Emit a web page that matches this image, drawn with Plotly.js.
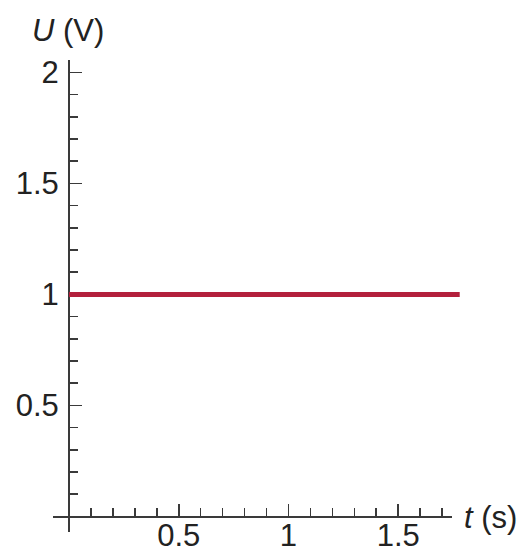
<!DOCTYPE html>
<html>
<head>
<meta charset="utf-8">
<script src="https://cdn.plot.ly/plotly-3.0.1.min.js"></script>
<style>
  html, body { margin: 0; padding: 0; background: #fff; }
  #chart { width: 523px; height: 553px; }
</style>
</head>
<body>
<div id="chart"></div>
<script>
// Constant voltage U = 1 V over time t
var timeS = [0, 1.78];
var voltageV = [1, 1];

var yTickVals = [0.5, 1, 1.5, 2];
var yTickText = ['0.5', '1', '1.5', '2'];
var xTickVals = [0.5, 1, 1.5];
var xTickText = ['0.5', '1', '1.5'];

var W = 523, H = 553;
// pixel layout of the axes
var px0 = 69, pxPerUnit = 219.5;   // horizontal
var py0 = 516.5, pyPerUnit = 222;  // vertical

var xRange = [-0.075, 1.745];
var yRange = [-0.07, 2.056];

function xPix(v) { return px0 + v * pxPerUnit; }
function yPix(v) { return py0 - v * pyPerUnit; }

var xDomain = [xPix(xRange[0]) / W, xPix(xRange[1]) / W];
var yDomain = [1 - yPix(yRange[0]) / H, 1 - yPix(yRange[1]) / H];

// wider hidden axis so the line may run a little past the drawn axis end
var x2Range = [-0.075, 1.8];
var x2Domain = [xPix(x2Range[0]) / W, xPix(x2Range[1]) / W];

var fontFam = 'Liberation Sans, Arial, sans-serif';
var axisColor = '#3a3a3a';
var textColor = '#222222';

// empty trace that keeps the main x/y subplot (and its axes) alive
var axesHolder = {
  x: [], y: [],
  xaxis: 'x', yaxis: 'y',
  mode: 'lines',
  hoverinfo: 'skip'
};

var trace = {
  x: timeS,
  y: voltageV,
  xaxis: 'x2',
  yaxis: 'y',
  mode: 'lines',
  line: { color: '#b3203c', width: 5 },
  hoverinfo: 'skip'
};

var tickFont = { family: fontFam, size: 31, color: textColor };

var layout = {
  width: W,
  height: H,
  margin: { l: 0, r: 0, t: 0, b: 0 },
  paper_bgcolor: '#fff',
  plot_bgcolor: 'rgba(0,0,0,0)',
  showlegend: false,
  font: { family: fontFam, size: 31, color: textColor },
  xaxis: {
    domain: xDomain,
    range: xRange,
    anchor: 'free',
    position: 1 - py0 / H,
    showgrid: false,
    zeroline: false,
    showline: true,
    linecolor: axisColor,
    linewidth: 2,
    ticks: 'inside',
    ticklen: 12,
    tickwidth: 1.6,
    tickcolor: axisColor,
    tickmode: 'array',
    tickvals: xTickVals,
    ticktext: xTickText,
    ticklabelstandoff: -9,
    tickfont: tickFont,
    minor: { tickmode: 'linear', tick0: 0, dtick: 0.1, ticks: 'inside', ticklen: 8, tickwidth: 1.6, tickcolor: axisColor, showgrid: false }
  },
  xaxis2: {
    domain: x2Domain,
    range: x2Range,
    anchor: 'y',
    visible: false,
    showgrid: false,
    zeroline: false
  },
  yaxis: {
    domain: yDomain,
    range: yRange,
    anchor: 'free',
    position: px0 / W,
    showgrid: false,
    zeroline: false,
    showline: true,
    linecolor: axisColor,
    linewidth: 2,
    ticks: 'inside',
    ticklen: 12,
    tickwidth: 1.6,
    tickcolor: axisColor,
    tickmode: 'array',
    tickvals: yTickVals,
    ticktext: yTickText,
    ticklabelstandoff: 3,
    tickfont: tickFont,
    minor: { tickmode: 'linear', tick0: 0, dtick: 0.1, ticks: 'inside', ticklen: 8, tickwidth: 1.6, tickcolor: axisColor, showgrid: false }
  },
  annotations: [
    {
      xref: 'paper', yref: 'paper',
      x: 30 / W, y: 1 - 30 / H,
      xanchor: 'left', yanchor: 'middle',
      text: '<i>U</i> (V)',
      showarrow: false,
      font: { family: fontFam, size: 31, color: textColor }
    },
    {
      xref: 'paper', yref: 'paper',
      x: 462 / W, y: 1 - 517 / H,
      xanchor: 'left', yanchor: 'middle',
      text: '<i>t</i> (s)',
      showarrow: false,
      font: { family: fontFam, size: 31, color: textColor }
    }
  ]
};

Plotly.newPlot('chart', [axesHolder, trace], layout, { displayModeBar: false, staticPlot: true });
</script>
</body>
</html>
